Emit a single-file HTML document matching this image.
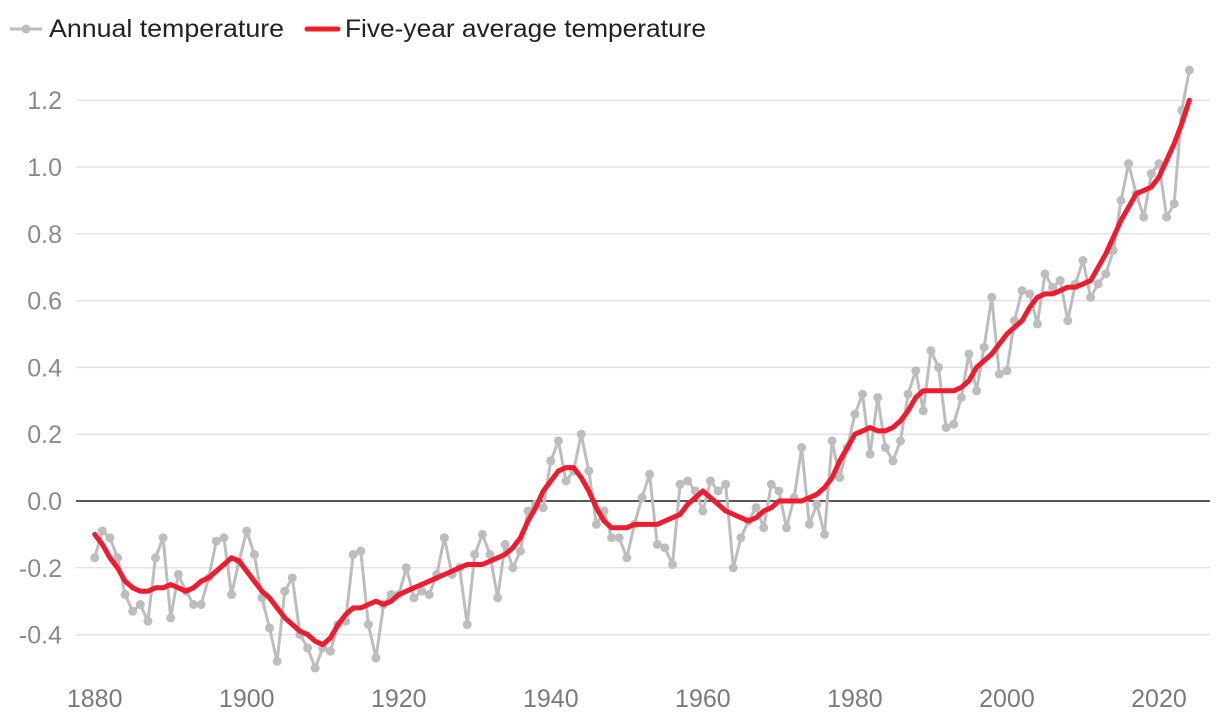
<!DOCTYPE html>
<html><head><meta charset="utf-8"><style>
body{margin:0;background:#fff;}
svg{display:block;font-family:"Liberation Sans",sans-serif;}
</style></head><body>
<svg id="chart" width="1220" height="722">
<g>
<g>
<line x1="10" y1="29" x2="42" y2="29" stroke="#bdbdbd" stroke-width="3"/>
<circle cx="26" cy="29" r="4.5" fill="#bdbdbd"/>
<text x="49" y="37" font-size="25" fill="#222" textLength="235" lengthAdjust="spacingAndGlyphs">Annual temperature</text>
</g>
<g>
<line x1="307" y1="29" x2="338" y2="29" stroke="#ee1c2e" stroke-width="5" stroke-linecap="round"/>
<text x="345" y="37" font-size="25" fill="#222" textLength="361" lengthAdjust="spacingAndGlyphs">Five-year average temperature</text>
</g>
</g>
<g id="grid"></g>
<g id="yticks"></g>
<g id="xticks"></g>
<g id="series"></g>
</svg>
<script>
const startYear = 1880;
const annualValues = [-0.17,-0.09,-0.11,-0.17,-0.28,-0.33,-0.31,-0.36,-0.17,-0.11,-0.35,-0.22,-0.27,-0.31,-0.31,-0.23,-0.12,-0.11,-0.28,-0.18,
-0.09,-0.16,-0.29,-0.38,-0.48,-0.27,-0.23,-0.40,-0.44,-0.50,-0.44,-0.45,-0.37,-0.36,-0.16,-0.15,-0.37,-0.47,-0.31,-0.28,
-0.28,-0.20,-0.29,-0.27,-0.28,-0.22,-0.11,-0.22,-0.20,-0.37,-0.16,-0.10,-0.16,-0.29,-0.13,-0.20,-0.15,-0.03,-0.01,-0.02,
0.12,0.18,0.06,0.09,0.20,0.09,-0.07,-0.03,-0.11,-0.11,-0.17,-0.07,0.01,0.08,-0.13,-0.14,-0.19,0.05,0.06,0.03,
-0.03,0.06,0.03,0.05,-0.20,-0.11,-0.06,-0.02,-0.08,0.05,0.03,-0.08,0.01,0.16,-0.07,-0.01,-0.10,0.18,0.07,0.16,
0.26,0.32,0.14,0.31,0.16,0.12,0.18,0.32,0.39,0.27,0.45,0.40,0.22,0.23,0.31,0.44,0.33,0.46,0.61,0.38,
0.39,0.54,0.63,0.62,0.53,0.68,0.64,0.66,0.54,0.65,0.72,0.61,0.65,0.68,0.75,0.90,1.01,0.92,0.85,0.98,
1.01,0.85,0.89,1.17,1.29];
const smoothValues = [-0.10,-0.13,-0.17,-0.20,-0.24,-0.26,-0.27,-0.27,-0.26,-0.26,-0.25,-0.26,-0.27,-0.26,-0.24,-0.23,-0.21,-0.19,-0.17,-0.18,
-0.21,-0.24,-0.27,-0.29,-0.32,-0.35,-0.37,-0.39,-0.40,-0.42,-0.43,-0.41,-0.37,-0.34,-0.32,-0.32,-0.31,-0.30,-0.31,-0.30,
-0.28,-0.27,-0.26,-0.25,-0.24,-0.23,-0.22,-0.21,-0.20,-0.19,-0.19,-0.19,-0.18,-0.17,-0.16,-0.14,-0.11,-0.06,-0.02,0.03,
0.06,0.09,0.10,0.10,0.07,0.03,-0.02,-0.06,-0.08,-0.08,-0.08,-0.07,-0.07,-0.07,-0.07,-0.06,-0.05,-0.04,-0.01,0.01,
0.03,0.01,-0.01,-0.03,-0.04,-0.05,-0.06,-0.05,-0.03,-0.02,0.00,0.00,0.00,0.00,0.01,0.02,0.04,0.07,0.12,0.16,
0.20,0.21,0.22,0.21,0.21,0.22,0.24,0.27,0.31,0.33,0.33,0.33,0.33,0.33,0.34,0.36,0.40,0.42,0.44,0.47,
0.50,0.52,0.54,0.58,0.61,0.62,0.62,0.63,0.64,0.64,0.65,0.66,0.70,0.74,0.79,0.84,0.88,0.92,0.93,0.94,
0.97,1.02,1.07,1.13,1.20];
const yTickValues = [-0.4,-0.2,0.0,0.2,0.4,0.6,0.8,1.0,1.2];
const yTickLabels = ["-0.4","-0.2","0.0","0.2","0.4","0.6","0.8","1.0","1.2"];
const xTickValues = [1880,1900,1920,1940,1960,1980,2000,2020];

const NS = "http://www.w3.org/2000/svg";
const xS = yr => 94.7 + (yr - 1880) * 7.602;
const yS = v => 501 - v * 334;
function mk(tag, attrs, parent){const e=document.createElementNS(NS,tag);for(const k in attrs)e.setAttribute(k,attrs[k]);parent.appendChild(e);return e;}
const grid=document.getElementById('grid'), yt=document.getElementById('yticks'), xt=document.getElementById('xticks'), ser=document.getElementById('series');
yTickValues.forEach((v,i)=>{
  const l=mk('line',{x1:76,x2:1210,y1:yS(v),y2:yS(v),stroke:v===0?'#222':'#e3e3e3','stroke-width':1.5},grid);
  
  
  const t=mk('text',{x:62,y:yS(v)+9,'text-anchor':'end','font-size':25,fill:'#8a8a8a'},yt);
  t.textContent=yTickLabels[i];
  
  
});
xTickValues.forEach(yr=>{
  const t=mk('text',{x:xS(yr),y:707,'text-anchor':'middle','font-size':25,fill:'#7a7a7a'},xt);
  t.textContent=String(yr);
  
  
});
const annPts=annualValues.map((v,i)=>xS(startYear+i).toFixed(1)+','+yS(v).toFixed(1)).join(' ');
const ap=mk('polyline',{points:annPts,fill:'none',stroke:'#bdbdbd','stroke-width':3,'stroke-linejoin':'round'},ser);


annualValues.forEach((v,i)=>{
  const c=mk('circle',{cx:xS(startYear+i),cy:yS(v),r:4.5,fill:'#bdbdbd'},ser);
  
  
});
const smPts=smoothValues.map((v,i)=>xS(startYear+i).toFixed(1)+','+yS(v).toFixed(1)).join(' ');
const sp=mk('polyline',{points:smPts,fill:'none',stroke:'#ee1c2e','stroke-width':5,'stroke-linejoin':'round','stroke-linecap':'round'},ser);


</script>
</body></html>
